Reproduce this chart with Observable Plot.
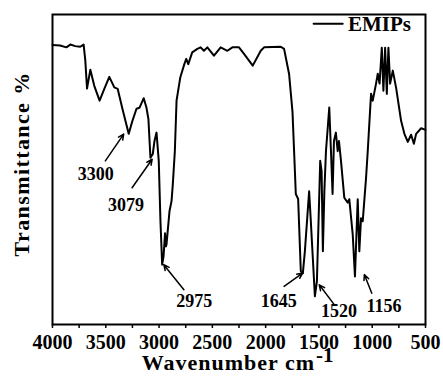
<!DOCTYPE html>
<html>
<head>
<meta charset="utf-8">
<script src="https://cdn.jsdelivr.net/npm/d3@7"></script>
<script src="https://cdn.jsdelivr.net/npm/@observablehq/plot@0.6"></script>
<style>
  html, body { margin: 0; padding: 0; background: #fff; }
</style>
</head>
<body>
<div id="chart"></div>
<script>
// Spectrum (wavenumber cm-1, transmittance %)
const wavenumber = [4000,3928,3870,3833,3786,3740,3708,3692,3676,3645,3608,3558,3514,3467,3420,3388,3344,3285,3250,3212,3184,3144,3118,3100,3081,3059,3043,3024,3003,2987,2971,2958,2944,2935,2930,2902,2883,2871,2852,2836,2801,2763,2745,2726,2689,2641,2610,2579,2547,2485,2422,2359,2312,2250,2203,2121,2046,2015,1858,1827,1780,1748,1733,1717,1695,1670,1651,1632,1592,1576,1538,1519,1488,1475,1463,1449,1434,1403,1387,1372,1359,1341,1324,1312,1293,1262,1230,1215,1183,1162,1136,1121,1105,1089,1058,1042,1011,995,964,948,931,910,895,879,863,848,832,807,776,729,698,666,635,609,588,541,500];
const transmittance = [90.2,90.0,89.4,90.3,89.8,89.6,90.3,85.1,76.1,82.2,77.0,72.2,76.0,79.9,76.5,76.0,69.6,61.5,65.7,69.6,69.9,73.0,69.9,66.3,53.8,55.0,59.2,61.9,52.8,33.3,19.3,22.0,29.4,25.2,25.9,36.6,39.8,45.3,55.9,72.2,79.7,84.0,85.7,84.0,87.8,88.9,89.4,88.3,89.4,86.7,89.4,88.3,89.4,89.4,87.3,83.5,88.3,89.4,89.6,88.9,80.8,68.6,55.9,42.1,40.5,17.2,16.5,23.6,43.0,33.3,9.1,13.9,52.8,49.5,23.6,43.0,55.9,70.0,55.9,42.1,59.2,61.9,55.9,59.2,52.8,40.9,39.3,40.4,29.1,15.5,40.4,23.6,34.3,33.3,47.2,55.9,74.4,72.2,77.7,80.9,77.7,89.3,75.4,89.3,74.4,89.3,77.7,81.9,76.4,65.7,61.5,58.9,61.2,58.3,61.5,63.3,62.8];

// Peak annotations: label, label position, arrow start and end (data units)
const peakLabels = ["3300","3079","2975","1645","1520","1156"];
const labelX = [3594,3311,2670,1878,1312,889];
const labelY = [48.5,38.5,7.4,7.5,4.2,5.8];
const arrowX1 = [3504,3253,2767,1827,1356,1004];
const arrowY1 = [52.8,44.1,11.2,12.3,6.4,10.1];
const arrowX2 = [3332,3065,2956,1653,1497,1074];
const arrowY2 = [61.4,53.3,19.3,16.6,12.8,16.1];

// Axis ticks
const xTicks = [4000,3750,3500,3250,3000,2750,2500,2250,2000,1750,1500,1250,1000,750,500];
const xTickLabels = ["4000","","3500","","3000","","2500","","2000","","1500","","1000","","500"];
const xTitle = "Wavenumber cm";
const xTitleSup = "-1";
const yTitle = "Transmittance %";

// Legend
const seriesName = "EMIPs";
const legendLineX = [1550,1277];
const legendY = 97;
const legendTextX = 1227;

const spectrum = wavenumber.map((w, i) => ({w, t: transmittance[i]}));
const peaks = peakLabels.map((label, i) => ({
  label, lx: labelX[i], ly: labelY[i],
  x1: arrowX1[i], y1: arrowY1[i], x2: arrowX2[i], y2: arrowY2[i]
}));

const font = '"Liberation Serif", "Times New Roman", serif';

const chart = Plot.plot({
  width: 443,
  height: 378,
  marginLeft: 52,
  marginRight: 18,
  marginTop: 14,
  marginBottom: 54,
  style: {fontFamily: font, fontWeight: "bold", background: "#fff", color: "#000"},
  x: {domain: [4000, 500], axis: null},
  y: {domain: [0, 100], axis: null},
  marks: [
    Plot.line(spectrum, {x: "w", y: "t", stroke: "#000", strokeWidth: 2, curve: "linear"}),
    Plot.arrow(peaks, {x1: "x1", y1: "y1", x2: "x2", y2: "y2", stroke: "#000", strokeWidth: 1.5, headLength: 6, headAngle: 50}),
    Plot.text(peaks, {x: "lx", y: "ly", text: "label", fontSize: 18, fontWeight: "bold", fill: "#000"}),
    Plot.line(legendLineX.map(x => ({x, y: legendY})), {x: "x", y: "y", stroke: "#000", strokeWidth: 2}),
    Plot.text([seriesName], {x: legendTextX, y: legendY, text: d => d, textAnchor: "start", fontSize: 21, fontWeight: "bold", fill: "#000"}),
    Plot.axisX({ticks: xTicks, tickFormat: d => xTickLabels[xTicks.indexOf(d)], tickSize: 4, tickPadding: 6, strokeWidth: 1.5, fontSize: 20, fontWeight: "bold", label: null, fill: "#000"}),
    Plot.text([xTitle], {frameAnchor: "bottom", text: d => d, textAnchor: "end", dx: 76, dy: 45, fontSize: 22, fontWeight: "bold", fill: "#000"}),
    Plot.text([xTitleSup], {frameAnchor: "bottom", text: d => d, textAnchor: "start", dx: 77, dy: 37, fontSize: 21, fontWeight: "bold", fill: "#000"}),
    Plot.text([yTitle], {frameAnchor: "left", y: [51.8], text: d => d, textAnchor: "middle", dx: -31, rotate: -90, fontSize: 22, fontWeight: "bold", fill: "#000"}),
    Plot.frame({stroke: "#000", strokeWidth: 2})
  ]
});
d3.select(chart).selectAll("text")
  .filter(function() { return this.textContent === xTitle; })
  .attr("letter-spacing", "1px");
d3.select(chart).selectAll("text")
  .filter(function() { return this.textContent === yTitle; })
  .attr("letter-spacing", "1.4px");
document.getElementById("chart").appendChild(chart);
</script>
</body>
</html>
